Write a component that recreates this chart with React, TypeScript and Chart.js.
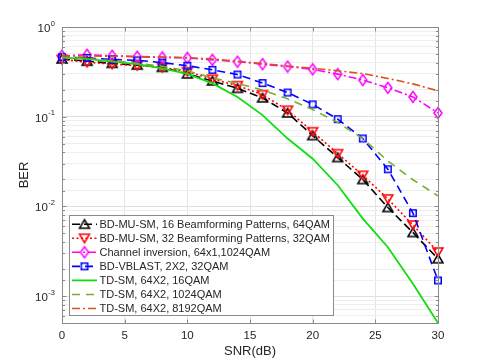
import React, { useEffect, useRef } from 'react';
import { Chart, registerables } from 'chart.js';

Chart.register(...registerables);

// ---------- data ----------
const snr = [0, 2, 4, 6, 8, 10, 12, 14, 16, 18, 20, 22, 24, 26, 28, 30];

const berBdMuSm16 = [0.44, 0.415, 0.393, 0.376, 0.355, 0.3, 0.25, 0.207, 0.162, 0.11, 0.0615, 0.035, 0.0199, 0.0097, 0.0051, 0.0026];
const berBdMuSm32 = [0.435, 0.405, 0.385, 0.372, 0.355, 0.318, 0.262, 0.222, 0.176, 0.118, 0.068, 0.0387, 0.0222, 0.0121, 0.0062, 0.0031];
const berChannelInv = [0.478, 0.49, 0.478, 0.466, 0.458, 0.452, 0.43, 0.41, 0.385, 0.362, 0.337, 0.298, 0.256, 0.21, 0.166, 0.11];
const berBdVblast = [0.46, 0.452, 0.435, 0.425, 0.4, 0.37, 0.333, 0.295, 0.237, 0.186, 0.137, 0.0938, 0.0571, 0.0259, 0.0084, 0.00149];
const berTdSm16 = [0.455, 0.44, 0.41, 0.385, 0.345, 0.3, 0.235, 0.166, 0.104, 0.057, 0.034, 0.0172, 0.0073, 0.0035, 0.00137, 0.0005];
const berTdSm1024 = [0.465, 0.445, 0.42, 0.395, 0.365, 0.325, 0.27, 0.235, 0.198, 0.158, 0.12, 0.086, 0.057, 0.032, 0.0198, 0.0131];
const berTdSm8192 = [0.475, 0.475, 0.472, 0.468, 0.462, 0.455, 0.44, 0.415, 0.39, 0.368, 0.346, 0.325, 0.302, 0.267, 0.232, 0.194];

const seriesLabels = [
  'BD-MU-SM, 16 Beamforming Patterns, 64QAM',
  'BD-MU-SM, 32 Beamforming Patterns, 32QAM',
  'Channel inversion, 64x1,1024QAM',
  'BD-VBLAST, 2X2, 32QAM',
  'TD-SM, 64X2, 16QAM',
  'TD-SM, 64X2, 1024QAM',
  'TD-SM, 64X2, 8192QAM',
];

const xTicks = [0, 5, 10, 15, 20, 25, 30];
const yMin = 5e-4;
const yMax = 1;

// ---------- styles ----------
const FONT = '"Liberation Sans", Arial, Helvetica, sans-serif';
const TEXT = '#262626';
const AXIS = '#8a8a8a';

function makeMarker(kind: string, color: string): HTMLCanvasElement {
  const c = document.createElement('canvas');
  const s = 14;
  c.width = s;
  c.height = s;
  const g = c.getContext('2d') as CanvasRenderingContext2D;
  g.strokeStyle = color;
  g.lineWidth = 1.5;
  g.lineJoin = 'miter';
  const cx = s / 2;
  const cy = s / 2;
  g.beginPath();
  if (kind === 'up') {
    g.moveTo(cx, cy - 4.5);
    g.lineTo(cx + 5, cy + 4);
    g.lineTo(cx - 5, cy + 4);
    g.closePath();
  } else if (kind === 'down') {
    g.moveTo(cx, cy + 4.5);
    g.lineTo(cx + 5, cy - 4);
    g.lineTo(cx - 5, cy - 4);
    g.closePath();
  } else if (kind === 'diamond') {
    g.moveTo(cx, cy - 5.5);
    g.lineTo(cx + 4, cy);
    g.lineTo(cx, cy + 5.5);
    g.lineTo(cx - 4, cy);
    g.closePath();
  } else if (kind === 'square') {
    g.rect(cx - 3.25, cy - 3.25, 6.5, 6.5);
  }
  g.stroke();
  return c;
}

const isDecade = (v: number) => {
  const e = Math.log10(v);
  return Math.abs(e - Math.round(e)) < 1e-6;
};

const matlabPlugin = {
  id: 'matlabAxes',
  afterDraw(chart: any) {
    const { ctx, chartArea: a, scales } = chart;
    const xs = scales.x;
    const ys = scales.y;
    const L = Math.round(a.left) + 0.5;
    const R = Math.round(a.right) + 0.5;
    const T = Math.round(a.top) + 0.5;
    const B = Math.round(a.bottom) + 0.5;
    ctx.save();
    ctx.strokeStyle = AXIS;
    ctx.lineWidth = 1;
    ctx.beginPath();
    ctx.rect(L, T, R - L, B - T);
    // x tick marks (inside)
    for (const t of xs.ticks) {
      const px = Math.round(xs.getPixelForValue(t.value)) + 0.5;
      ctx.moveTo(px, B);
      ctx.lineTo(px, B - 4);
      ctx.moveTo(px, T);
      ctx.lineTo(px, T + 4);
    }
    // y tick marks
    for (const t of ys.ticks) {
      const py = Math.round(ys.getPixelForValue(t.value)) + 0.5;
      const len = isDecade(t.value) ? 4 : 2.5;
      ctx.moveTo(L, py);
      ctx.lineTo(L + len, py);
      ctx.moveTo(R, py);
      ctx.lineTo(R - len, py);
    }
    ctx.stroke();

    // y tick labels 10^n
    ctx.fillStyle = TEXT;
    for (const t of ys.ticks) {
      if (!isDecade(t.value)) continue;
      const py = ys.getPixelForValue(t.value);
      const exp = String(Math.round(Math.log10(t.value)));
      ctx.font = `7.5px ${FONT}`;
      const supW = ctx.measureText(exp).width;
      ctx.font = `11.5px ${FONT}`;
      const baseW = ctx.measureText('10').width;
      const right = a.left - 7;
      const supX = right - supW;
      const baseX = supX - baseW - 0.5;
      ctx.textAlign = 'left';
      ctx.textBaseline = 'alphabetic';
      ctx.fillText('10', baseX, py + 5);
      ctx.font = `7.5px ${FONT}`;
      ctx.fillText(exp, supX, py - 1.5);
    }

    // legend
    const datasets = chart.data.datasets;
    const rowH = 14.05;
    ctx.font = `11px ${FONT}`;
    let maxW = 0;
    for (const d of datasets) maxW = Math.max(maxW, ctx.measureText(d.label).width);
    const boxL = Math.round(a.left + 7) + 0.5;
    const boxB = Math.round(a.bottom - 8) + 0.5;
    const boxH = Math.round(rowH * (datasets.length - 1) + 15.5);
    const boxT = boxB - boxH;
    const boxW = Math.round(30 + maxW + 4);
    ctx.fillStyle = '#ffffff';
    ctx.fillRect(boxL, boxT, boxW, boxH);
    ctx.strokeStyle = AXIS;
    ctx.lineWidth = 1;
    ctx.strokeRect(boxL, boxT, boxW, boxH);
    datasets.forEach((d: any, i: number) => {
      const cy = boxT + 8.7 + i * rowH;
      ctx.save();
      ctx.strokeStyle = d.borderColor;
      ctx.lineWidth = d.borderWidth;
      ctx.setLineDash(d.borderDash || []);
      ctx.beginPath();
      ctx.moveTo(boxL + 2.5, cy);
      ctx.lineTo(boxL + 27.5, cy);
      ctx.stroke();
      ctx.restore();
      if (d.pointStyle && typeof d.pointStyle === 'object') {
        const img = d.pointStyle as HTMLCanvasElement;
        ctx.drawImage(img, boxL + 15 - img.width / 2, cy - img.height / 2);
      }
      ctx.fillStyle = TEXT;
      ctx.font = `11px ${FONT}`;
      ctx.textAlign = 'left';
      ctx.textBaseline = 'middle';
      ctx.fillText(d.label, boxL + 30, cy + 0.5);
    });
    ctx.restore();
  },
};

export default function App() {
  const ref = useRef<HTMLCanvasElement | null>(null);

  useEffect(() => {
    if (!ref.current) return;
    const mk = (label: string, data: number[], color: string, dash: number[], marker: HTMLCanvasElement | null, width: number, order: number) => ({
      label,
      data: snr.map((x, i) => ({ x, y: data[i] })),
      borderColor: color,
      backgroundColor: color,
      borderWidth: width,
      borderDash: dash,
      pointStyle: marker ? marker : 'circle',
      pointRadius: marker ? 4 : 0,
      pointHoverRadius: marker ? 4 : 0,
      tension: 0,
      fill: false,
      clip: false as any,
      order,
    });

    const datasets = [
      mk(seriesLabels[0], berBdMuSm16, '#000000', [8, 4], makeMarker('up', '#000000'), 1.6, 6),
      mk(seriesLabels[1], berBdMuSm32, '#ff0000', [2, 2.5], makeMarker('down', '#ff0000'), 1.6, 5),
      mk(seriesLabels[2], berChannelInv, '#ff00ff', [8, 3, 2, 3], makeMarker('diamond', '#ff00ff'), 1.6, 4),
      mk(seriesLabels[3], berBdVblast, '#0000ff', [8, 5], makeMarker('square', '#0000ff'), 1.6, 3),
      mk(seriesLabels[4], berTdSm16, '#11dd11', [], null, 1.8, 2),
      mk(seriesLabels[5], berTdSm1024, '#77ac30', [8, 6], null, 1.6, 1),
      mk(seriesLabels[6], berTdSm8192, '#d95319', [8, 3, 2, 3], null, 1.6, 0),
    ];

    const chart = new Chart(ref.current, {
      type: 'line',
      data: { datasets },
      options: {
        animation: false,
        responsive: true,
        maintainAspectRatio: false,
        layout: { padding: { left: 0, right: 47, top: 27, bottom: 0 } },
        plugins: {
          legend: { display: false },
          tooltip: { enabled: false },
        },
        scales: {
          x: {
            type: 'linear',
            min: 0,
            max: 30,
            afterFit: (s: any) => {
              s.height = 40;
            },
            afterBuildTicks: (s: any) => {
              s.ticks = xTicks.map((v) => ({ value: v }));
            },
            ticks: {
              color: TEXT,
              font: { family: FONT, size: 11.5 },
              padding: 6,
              maxRotation: 0,
            },
            grid: { color: '#e4e4e4', drawTicks: false, lineWidth: 1 },
            border: { display: false },
            title: {
              display: true,
              text: 'SNR(dB)',
              color: TEXT,
              font: { family: FONT, size: 13 },
              padding: { top: 0, bottom: 4 },
            },
          },
          y: {
            type: 'logarithmic',
            min: yMin,
            max: yMax,
            afterFit: (s: any) => {
              s.width = 62;
            },
            ticks: {
              display: false,
              autoSkip: false,
              callback: () => '',
            },
            grid: {
              color: (c: any) => (c.tick && isDecade(c.tick.value) ? '#e0e0e0' : '#eeeeee'),
              drawTicks: false,
              lineWidth: 1,
            },
            border: { display: false },
            title: {
              display: true,
              text: 'BER',
              color: TEXT,
              font: { family: FONT, size: 13 },
              padding: { top: 17, bottom: 0 },
            },
          },
        },
      },
      plugins: [matlabPlugin],
    });

    return () => chart.destroy();
  }, []);

  return (
    <div style={{ position: 'absolute', left: 0, top: 0, width: 485, height: 363, background: '#ffffff' }}>
      <canvas ref={ref} />
    </div>
  );
}
